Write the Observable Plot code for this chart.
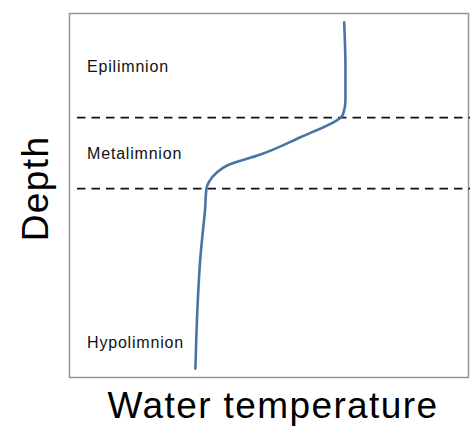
<!DOCTYPE html>
<html>
<head>
<meta charset="utf-8">
<script src="https://cdn.jsdelivr.net/npm/d3@7"></script>
<script src="https://cdn.jsdelivr.net/npm/@observablehq/plot@0.6"></script>
<style>
  html, body { margin: 0; padding: 0; background: #ffffff; }
  svg { display: block; }
</style>
</head>
<body>
<div id="chart"></div>
<script>
// Temperature profile (schematic units)
const temperature = [17.21, 17.29, 17.29, 17.15, 16.98, 16.73, 14.47, 11.97, 9.88, 9.25, 8.73, 8.58, 8.49, 8.33, 8.21, 8.04, 7.94, 7.89];
const depth       = [0.48, 2.95, 4.78, 5.51, 5.74, 5.88, 6.80, 7.75, 8.35, 8.72, 9.27, 9.63, 10.82, 12.19, 13.30, 15.77, 17.97, 19.51];

// Thermocline boundaries (depth)
const boundaries = [5.72, 9.62];

// Layer labels
const layerNames = ["Epilimnion", "Metalimnion", "Hypolimnion"];
const labelDepths = [3.19, 8.02, 18.4];
const labelTemp = 1.1;

const xLabel = "Water temperature";
const yLabel = "Depth";

const profile = temperature.map((t, i) => ({t, d: depth[i]}));
const labels = layerNames.map((name, i) => ({name, d: labelDepths[i]}));

const font = "Liberation Sans, Arial, Helvetica, sans-serif";

const chart = Plot.plot({
  width: 470,
  height: 427,
  marginLeft: 69,
  marginRight: 2,
  marginTop: 13,
  marginBottom: 50,
  style: {fontFamily: font, background: "#ffffff"},
  x: {domain: [0, 25], axis: null},
  y: {domain: [0, 20], reverse: true, axis: null},
  marks: [
    Plot.frame({stroke: "#889898", strokeWidth: 1.5}),
    Plot.ruleY(boundaries, {x1: 0.5, x2: 25.2, stroke: "#111", strokeWidth: 1.6, strokeDasharray: "8.5,6"}),
    Plot.line(profile, {x: "t", y: "d", curve: "monotone-y", stroke: "#4a74a3", strokeWidth: 2.6}),
    Plot.text(labels, {x: () => labelTemp, y: "d", text: "name", textAnchor: "start", lineAnchor: "bottom",
      fontSize: 16, fill: "#111"}),
    Plot.text([xLabel], {frameAnchor: "bottom", text: d => d, textAnchor: "middle", dx: 4, dy: 40, lineAnchor: "bottom",
      fontSize: 37, fill: "#000"}),
    Plot.text([yLabel], {frameAnchor: "left", text: d => d, textAnchor: "middle", rotate: -90, dx: -22, dy: -7, lineAnchor: "bottom",
      fontSize: 37, fill: "#000"})
  ]
});
chart.querySelectorAll("text").forEach(t => {
  const fs = t.closest("[font-size]")?.getAttribute("font-size");
  if (fs === "37") t.style.letterSpacing = "1.4px";
  if (fs === "16") t.style.letterSpacing = "0.8px";
});
document.getElementById("chart").appendChild(chart);
</script>
</body>
</html>
